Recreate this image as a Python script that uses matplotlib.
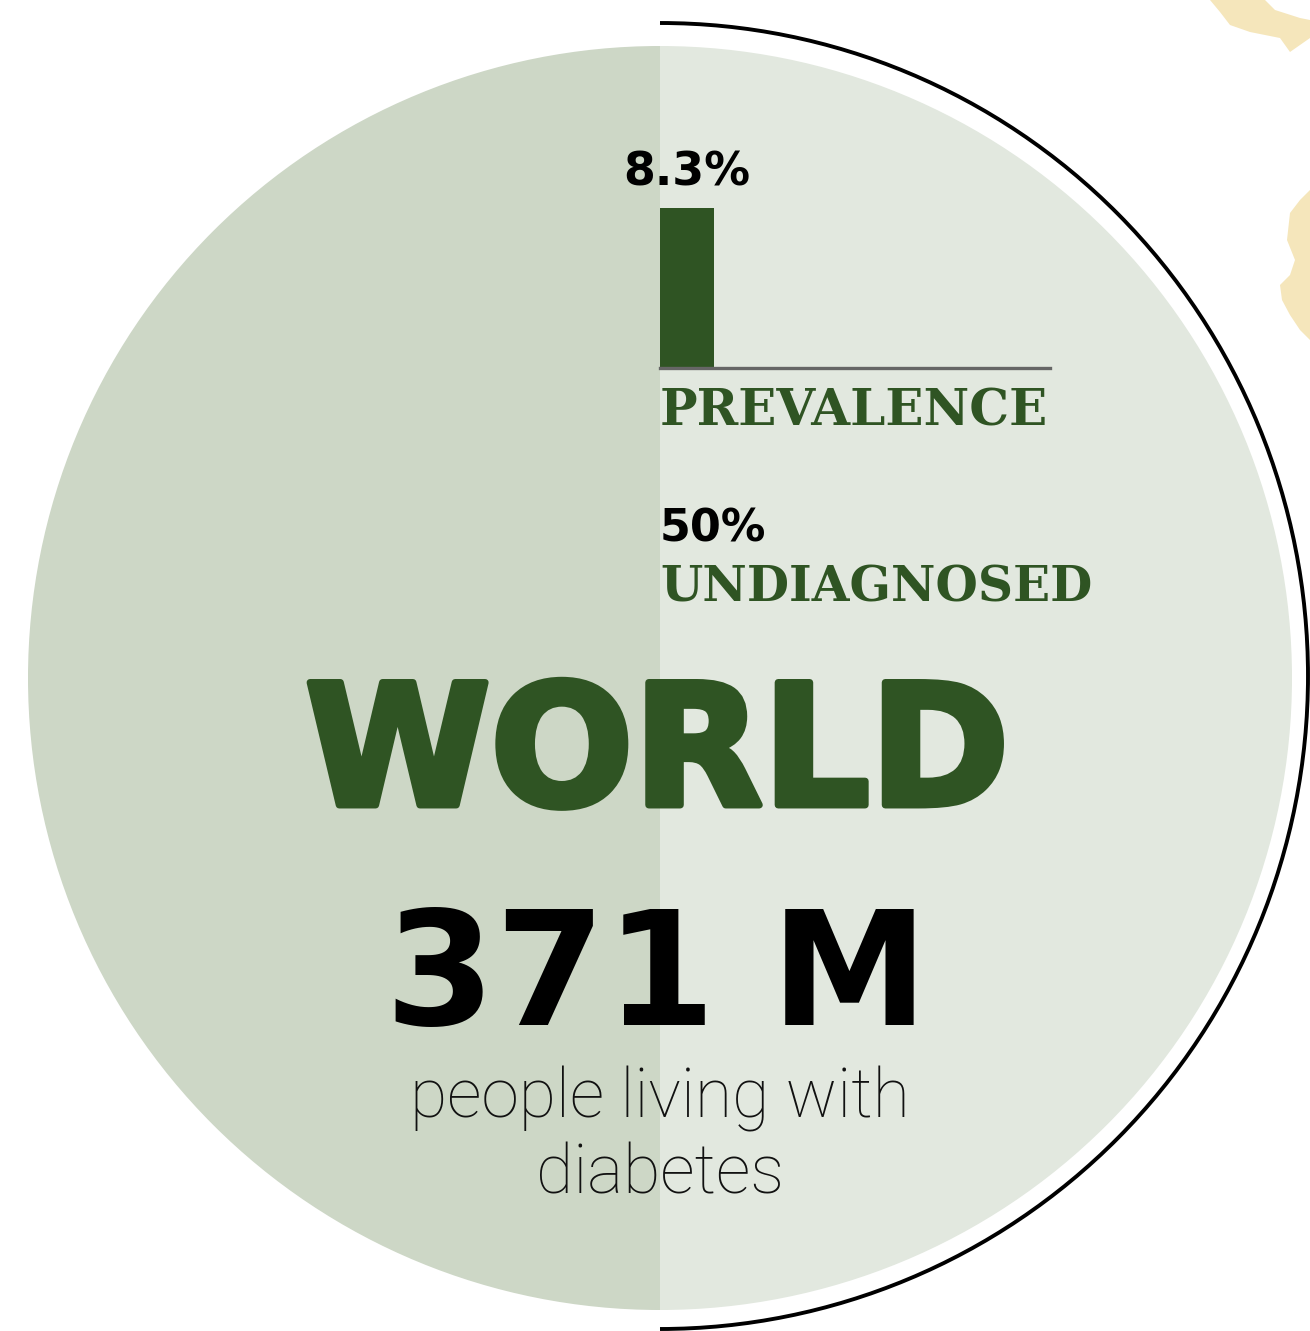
import numpy as np
import matplotlib.pyplot as plt
from matplotlib.patches import Wedge, Arc, Polygon
import matplotlib.patheffects as pe

# data
region = "WORLD"
prevalence = [8.3]          # percent
prevalence_max = 10.0
undiagnosed = 50            # percent
people_total = "371 M"
people_label = ["people living with", "diabetes"]

GREEN = "#2f5423"
LEFT_COL = "#cdd7c6"
RIGHT_COL = "#e2e8df"
SAND = "#f5e6bb"

W, H = 1310, 1331
fig = plt.figure(figsize=(W/100, H/100), dpi=100)
ax = fig.add_axes([0, 0, 1, 1])
ax.set_xlim(0, W)
ax.set_ylim(H, 0)
ax.axis("off")

# sand blobs in the corner
ax.add_patch(Polygon([[1210, 0], [1265, 0], [1275, 10], [1300, 18], [1310, 20],
                      [1310, 38], [1300, 45], [1290, 52], [1280, 38], [1250, 32],
                      [1230, 25], [1220, 12]], closed=True, color=SAND, lw=0))
ax.add_patch(Polygon([[1310, 190], [1300, 200], [1290, 213], [1287, 240],
                      [1295, 260], [1290, 275], [1280, 285], [1282, 300],
                      [1290, 315], [1300, 330], [1310, 340]], closed=True, color=SAND, lw=0))

# circle halves
cx, cy, r = 660, 678, 632
ax.add_patch(Wedge((cx, cy), r, 90, 270, color=LEFT_COL, lw=0))
ax.add_patch(Wedge((cx, cy), r, -90, 90, color=RIGHT_COL, lw=0))

# outer black arc on the right
ax.add_patch(Arc((cx, 676), 1296, 1306, theta1=-90, theta2=90, color="black", lw=2.8))

# prevalence bar as small inset
x0, x1 = 660, 1050
base_y = 368
bar_h = 160 * prevalence_max / prevalence[0]
bax = fig.add_axes([x0/W, 1 - base_y/H, (x1 - x0)/W, bar_h/H])
bax.set_xlim(0, 1)
bax.set_ylim(0, prevalence_max)
bax.axis("off")
bax.bar([0], prevalence, width=54/(x1 - x0), align="edge", color=GREEN)
bax.axhline(0, color="#666666", lw=2.4, clip_on=False)

ax.text(687, 186, f"{prevalence[0]}%", fontsize=33, fontweight="bold",
        ha="center", va="baseline", color="black")
ax.text(660, 425, "PREVALENCE", family="DejaVu Serif", fontsize=36, fontweight="bold",
        ha="left", va="baseline", color=GREEN)
ax.text(660, 542, f"{undiagnosed}%", fontsize=32, fontweight="bold",
        ha="left", va="baseline", color="black")
ax.text(660, 601, "UNDIAGNOSED", family="DejaVu Serif", fontsize=35, fontweight="bold",
        ha="left", va="baseline", color=GREEN)

ax.text(657, 805, region, fontsize=121, fontweight="bold", ha="center", va="baseline",
        color=GREEN, path_effects=[pe.withStroke(linewidth=5, foreground=GREEN)])
ax.text(657, 1025, people_total, fontsize=114, fontweight="bold", ha="center",
        va="baseline", color="black")
ax.text(660, 1118, people_label[0], family="Roboto", fontsize=49, fontweight="light",
        ha="center", va="baseline", color="#111111")
ax.text(660, 1193, people_label[1], family="Roboto", fontsize=49, fontweight="light",
        ha="center", va="baseline", color="#111111")

fig.savefig("out.png", dpi=100, facecolor="white")
